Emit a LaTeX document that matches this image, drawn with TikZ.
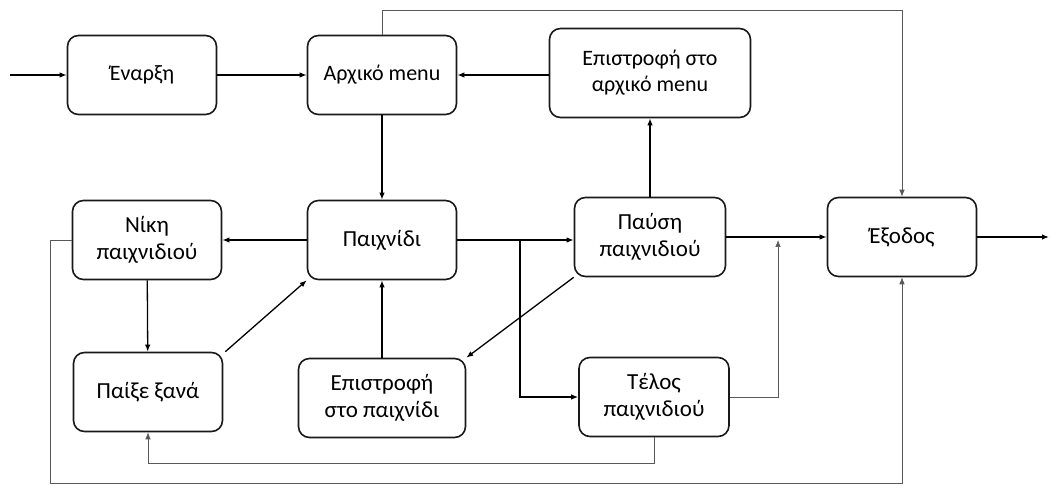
\documentclass[tikz,border=0pt]{standalone}
\usepackage{fontspec}
\setmainfont{Carlito}
\usetikzlibrary{arrows.meta}
\begin{document}
\begin{tikzpicture}[x=1pt,y=-1pt,
  box/.style={draw=black!90, line width=1.6pt, rounded corners=11pt, align=center,
    minimum width=149pt, minimum height=79pt, inner sep=2pt,
    font=\fontsize{23}{27}\selectfont},
  topbox/.style={box, font=\fontsize{22}{26}\selectfont},
  flow/.style={line width=1.3pt, -{Latex[length=7pt,width=5.5pt]}},
  thinflow/.style={line width=0.7pt, draw=black!65, -{Latex[length=7pt,width=5.5pt]}}]
\useasboundingbox (0,0) rectangle (1050,486);
\node[topbox] (start) at (142,75) {Έναρξη};
\node[topbox] (menu) at (382,75) {Αρχικό menu};
\node[topbox, minimum width=201pt, minimum height=89pt] (retmenu) at (650,73) {Επιστροφή στο\\αρχικό menu};
\node[box] (win) at (147,240) {Νίκη\\παιχνιδιού};
\node[box] (game) at (382,240) {Παιχνίδι};
\node[box, minimum width=151pt] (pause) at (650,237) {Παύση\\παιχνιδιού};
\node[box] (exit) at (902,237) {Έξοδος};
\node[box] (replay) at (148,392) {Παίξε ξανά};
\node[box, minimum width=167pt] (retgame) at (382,398) {Επιστροφή\\στο παιχνίδι};
\node[box, minimum width=150pt] (end) at (654,397) {Τέλος\\παιχνιδιού};
\coordinate (in) at (10,75);
\coordinate (out) at (1049,237);
\coordinate (split) at (520,240);
\coordinate (join) at (778,240);
\coordinate (topy) at (382,10);
\coordinate (boty) at (50,483);
\coordinate (mid) at (148,463);

\draw[flow] (in) -- (start);
\draw[flow] (start) -- (menu);
\draw[flow] (retmenu.west |- menu.east) -- (menu.east);
\draw[thinflow] (menu.north) -- (topy) -| (exit.north);
\draw[flow] (menu) -- (game);
\draw[flow] (game) -- (win);
\draw[flow] (game.east) -- (pause.west |- game.east);
\draw[flow] (split) |- (end.west);
\draw[flow] (pause) -- (retmenu);
\draw[flow] (pause) -- (exit);
\draw[thinflow] (end.east) -| (join);
\draw[flow] (pause.south west) -- (retgame.north east);
\draw[flow] (retgame) -- (game);
\draw[flow] ([xshift=2pt]replay.north east) -- (game.south west);
\draw[flow] (win) -- (replay);
\draw[thinflow] (win.west) -- (win.west -| boty) -- (boty) -| (exit.south);
\draw[thinflow] (end.south) |- (mid) -- (replay.south);
\draw[flow] (exit) -- (out);
\end{tikzpicture}
\end{document}
